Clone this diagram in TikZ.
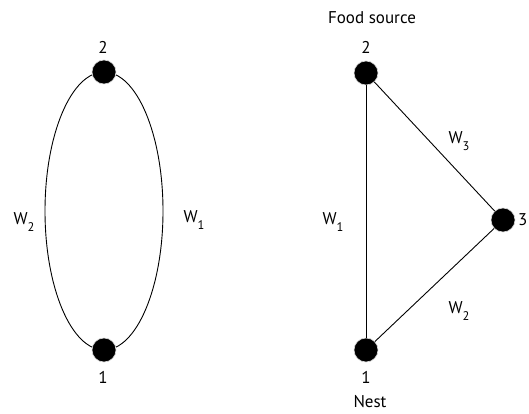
\documentclass[tikz,border=0pt]{standalone}
\usepackage{fontspec}
\setmainfont{PT Sans}
\newcommand{\wsub}[1]{W\raisebox{-0.8ex}{\fontsize{12.5}{13}\selectfont #1}}
\begin{document}
\begin{tikzpicture}[x=1pt,y=-1pt,
  vtx/.style={circle,fill=black,draw=black!15,line width=0.6pt,minimum size=24pt,inner sep=0pt},
  lbl/.style={font=\fontsize{17}{19}\selectfont,inner sep=0pt},
  edge/.style={line width=0.9pt,black}]
\useasboundingbox (0,0) rectangle (529,414);
% left graph
\coordinate (ec) at (104,211);
\draw[edge] (ec) ellipse [x radius=59, y radius=139];
\node[vtx] (L2) at (104,72) {};
\node[vtx] (L1) at (104,350) {};
\node[lbl] (L2t) at (103,47) {2};
\node[lbl] (L1t) at (103,377) {1};
\node[lbl] (LW2) at (24,222) {\wsub{2}};
\node[lbl] (LW1) at (194,220) {\wsub{1}};
% right graph
\node[vtx] (R2) at (366,73) {};
\node[vtx] (R1) at (366,350) {};
\node[vtx] (R3) at (503,220) {};
\draw[edge] (R2) -- (R1);
\draw[edge] (R2) -- (R3);
\draw[edge] (R1) -- (R3);
\node[lbl] (R2t) at (366,47) {2};
\node[lbl] (R1t) at (366,377) {1};
\node[lbl,anchor=west] (R3t) at (518,220) {3};
\node[lbl] (food) at (372,18) {Food source};
\node[lbl] (nest) at (370,402) {Nest};
\node[lbl] (RW1) at (333,222) {\wsub{1}};
\node[lbl] (RW3) at (459,141) {\wsub{3}};
\node[lbl] (RW2) at (459,311) {\wsub{2}};
\end{tikzpicture}
\end{document}
